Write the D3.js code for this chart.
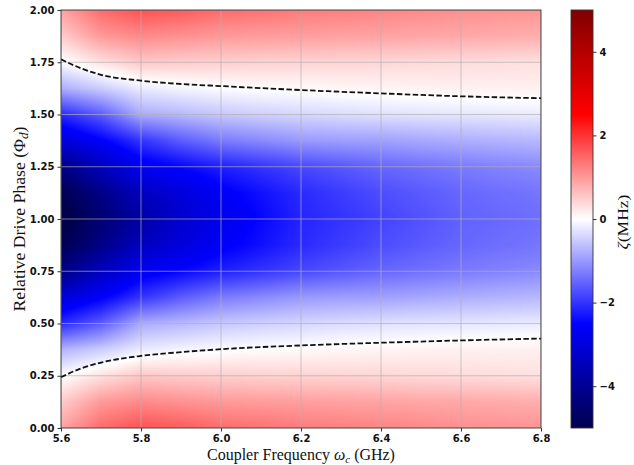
<!DOCTYPE html>
<html lang="en">
<head>
<meta charset="utf-8">
<script src="https://cdn.jsdelivr.net/npm/d3@7"></script>
<style>
body{margin:0;background:#fff;}
.tick text{font-family:"DejaVu Sans";font-weight:bold;font-size:10px;fill:#111;}
.title{font-family:"Liberation Serif";font-size:16px;fill:#111;}
</style>
</head>
<body>
<div id="chart"></div>
<script>
// coupler frequency nodes (GHz) and drive phase nodes
const freqs=[5.6,5.7,5.8,5.9,6.0,6.1,6.2,6.3,6.4,6.5,6.6,6.7,6.8]
const phases=[0,0.125,0.25,0.375,0.5,0.625,0.75,0.875,1.0,1.125,1.25,1.375,1.5,1.625,1.75,1.875,2.0]
// zeta (MHz), one row per phase (bottom to top)
const zeta=[
[0.9,1.45,1.7,1.6,1.45,1.38,1.3,1.25,1.2,1.15,1.1,1.07,1.05],
[0.5,1.0,1.15,1.08,1.0,0.97,0.95,0.92,0.9,0.87,0.85,0.82,0.8],
[-0.02,0.3,0.55,0.5,0.47,0.45,0.43,0.41,0.4,0.37,0.35,0.33,0.3],
[-0.75,-0.5,-0.2,-0.1,-0.03,0.02,0.04,0.08,0.1,0.12,0.14,0.14,0.15],
[-2.1,-1.6,-0.83,-0.7,-0.55,-0.47,-0.4,-0.35,-0.3,-0.27,-0.25,-0.22,-0.2],
[-3.0,-2.55,-2.0,-1.6,-1.3,-1.15,-1.0,-0.95,-0.93,-0.86,-0.8,-0.75,-0.7],
[-4.25,-3.4,-2.7,-2.45,-2.2,-2.0,-1.8,-1.65,-1.5,-1.4,-1.3,-1.22,-1.15],
[-4.95,-4.2,-3.4,-3.0,-2.6,-2.35,-2.1,-1.92,-1.75,-1.62,-1.5,-1.42,-1.35],
[-5.2,-4.5,-3.8,-3.2,-2.8,-2.45,-2.15,-2.0,-1.85,-1.7,-1.55,-1.48,-1.42],
[-4.95,-4.2,-3.4,-3.0,-2.6,-2.35,-2.1,-1.92,-1.75,-1.62,-1.5,-1.42,-1.35],
[-4.25,-3.4,-2.7,-2.45,-2.2,-2.0,-1.8,-1.65,-1.5,-1.4,-1.3,-1.22,-1.15],
[-3.0,-2.55,-2.0,-1.6,-1.3,-1.15,-1.0,-0.95,-0.93,-0.86,-0.8,-0.75,-0.7],
[-2.1,-1.6,-0.83,-0.7,-0.55,-0.47,-0.4,-0.35,-0.3,-0.27,-0.25,-0.22,-0.2],
[-0.8,-0.5,-0.2,-0.1,-0.03,0.02,0.04,0.08,0.1,0.12,0.14,0.14,0.15],
[-0.05,0.3,0.55,0.5,0.47,0.45,0.43,0.41,0.4,0.37,0.35,0.33,0.3],
[0.5,1.0,1.15,1.08,1.0,0.97,0.95,0.92,0.9,0.87,0.85,0.82,0.8],
[0.9,1.45,1.7,1.6,1.45,1.38,1.3,1.25,1.2,1.15,1.1,1.07,1.05]
]
// zeta = 0 contour lines (dashed)
const lowerZero=[[5.6,0.243],[5.65,0.285],[5.7,0.313],[5.8,0.345],[5.9,0.363],[6.0,0.377],[6.2,0.395],[6.4,0.408],[6.6,0.419],[6.8,0.428]]
const upperZero=[[5.6,1.764],[5.65,1.721],[5.7,1.69],[5.8,1.662],[5.9,1.646],[6.0,1.636],[6.2,1.617],[6.4,1.601],[6.6,1.587],[6.8,1.578]]
const xTicks=[5.6,5.8,6.0,6.2,6.4,6.6,6.8]
const yTicks=[0,0.25,0.5,0.75,1.0,1.25,1.5,1.75,2.0]
const cTicks=[-4,-2,0,2,4]

const W=634,H=465
const pl=61,pt=10,pw=480,ph=418
const cbx=571,cbw=22

const x=d3.scaleLinear().domain([5.6,6.8]).range([pl,pl+pw])
const y=d3.scaleLinear().domain([0,2]).range([pt+ph,pt])
// seismic colormap
const color=d3.scaleLinear().domain([-5,-2.5,0,2.5,5])
  .range(["#00004d","#0000ff","#ffffff","#ff0000","#800000"]).clamp(true)
const cy=d3.scaleLinear().domain([-5,5]).range([pt+ph,pt])

const svg=d3.select("#chart").append("svg").attr("width",W).attr("height",H)
svg.append("defs").append("clipPath").attr("id","clip")
  .append("rect").attr("x",pl).attr("y",pt).attr("width",pw).attr("height",ph)

// heatmap: shade each pixel from the grid (bilinear, like gouraud shading)
function field(fx,fp){
let i=Math.min(freqs.length-2,Math.max(0,d3.bisectRight(freqs,fx)-1))
let j=Math.min(phases.length-2,Math.max(0,d3.bisectRight(phases,fp)-1))
let tx=(fx-freqs[i])/(freqs[i+1]-freqs[i])
let ty=(fp-phases[j])/(phases[j+1]-phases[j])
let a=zeta[j][i],b=zeta[j][i+1],c=zeta[j+1][i],d=zeta[j+1][i+1]
return (a*(1-tx)+b*tx)*(1-ty)+(c*(1-tx)+d*tx)*ty
}
const cv=document.createElement("canvas")
cv.width=pw;cv.height=ph
const ctx=cv.getContext("2d")
const img=ctx.createImageData(pw,ph)
for(let r=0;r<ph;r++){
for(let q=0;q<pw;q++){
let v=field(x.invert(pl+q+0.5),y.invert(pt+r+0.5))
let c=d3.rgb(color(v))
let k=(r*pw+q)*4
img.data[k]=c.r;img.data[k+1]=c.g;img.data[k+2]=c.b;img.data[k+3]=255
}}
ctx.putImageData(img,0,0)
svg.append("image").attr("x",pl).attr("y",pt).attr("width",pw).attr("height",ph)
  .attr("preserveAspectRatio","none").attr("href",cv.toDataURL())

// grid
const grid=svg.append("g").attr("clip-path","url(#clip)")
grid.selectAll(".gx").data(xTicks).enter().append("line")
  .attr("x1",d=>x(d)).attr("x2",d=>x(d)).attr("y1",pt).attr("y2",pt+ph)
  .style("stroke","#b0b0b0").style("stroke-opacity",0.75).style("stroke-width",0.9)
grid.selectAll(".gy").data(yTicks).enter().append("line")
  .attr("y1",d=>y(d)).attr("y2",d=>y(d)).attr("x1",pl).attr("x2",pl+pw)
  .style("stroke","#b0b0b0").style("stroke-opacity",0.75).style("stroke-width",0.9)

// zero contours
const line=d3.line().x(d=>x(d[0])).y(d=>y(d[1])).curve(d3.curveMonotoneX)
svg.append("g").attr("clip-path","url(#clip)").selectAll("path").data([lowerZero,upperZero]).enter()
  .append("path").attr("d",line).style("fill","none").style("stroke","#111")
  .style("stroke-width",1.8).style("stroke-dasharray","5.5,2.4")

// axes
svg.append("rect").attr("x",pl).attr("y",pt).attr("width",pw).attr("height",ph)
  .style("fill","none").style("stroke","#333").style("stroke-width",0.9)
const xa=svg.append("g").attr("transform","translate(0,"+(pt+ph)+")")
  .call(d3.axisBottom(x).tickValues(xTicks).tickFormat(d3.format(".1f")).tickSize(3.5).tickPadding(3))
const ya=svg.append("g").attr("transform","translate("+pl+",0)")
  .call(d3.axisLeft(y).tickValues(yTicks).tickFormat(d3.format(".2f")).tickSize(3.5).tickPadding(3))
;[xa,ya].forEach(a=>{a.select(".domain").remove();a.selectAll(".tick line").style("stroke","#333")})

// titles, stretched along their length to the span seen in the picture
function fit(t,cx,cy,rot,len){
let w=t.node().getComputedTextLength()
t.attr("transform","translate("+cx+","+cy+") rotate("+rot+") scale("+(len/w)+",1)")
}
const xt=svg.append("text").attr("class","title").attr("text-anchor","middle")
xt.append("tspan").text("Coupler Frequency ")
xt.append("tspan").style("font-style","italic").text("ω")
xt.append("tspan").style("font-style","italic").style("font-size","11px").attr("dy",3).text("c")
xt.append("tspan").attr("dy",-3).text(" (GHz)")
fit(xt,pl+pw/2,460,0,188)

const yt=svg.append("text").attr("class","title").attr("text-anchor","middle")
yt.append("tspan").text("Relative Drive Phase (Φ")
yt.append("tspan").style("font-style","italic").style("font-size","12px").attr("dy",3).text("d")
yt.append("tspan").attr("dy",-3).text(")")
fit(yt,25,pt+ph/2,-90,185)

// colorbar
const grad=svg.select("defs").append("linearGradient").attr("id","cbar")
  .attr("x1",0).attr("y1",1).attr("x2",0).attr("y2",0)
grad.selectAll("stop").data(d3.range(0,1.0001,0.05)).enter().append("stop")
  .attr("offset",d=>d).attr("stop-color",d=>color(-5+10*d))
svg.append("rect").attr("x",cbx).attr("y",pt).attr("width",cbw).attr("height",ph)
  .style("fill","url(#cbar)").style("stroke","#333").style("stroke-width",0.9)
const ca=svg.append("g").attr("transform","translate("+(cbx+cbw)+",0)")
  .call(d3.axisRight(cy).tickValues(cTicks).tickSize(3.5).tickPadding(3))
ca.select(".domain").remove()
ca.selectAll(".tick line").style("stroke","#333")

const ct=svg.append("text").attr("class","title").style("font-size","14px").attr("text-anchor","middle")
ct.append("tspan").style("font-style","italic").text("ζ")
ct.append("tspan").text("(MHz)")
fit(ct,628,pt+ph/2+3,-90,55)
</script>
</body>
</html>
